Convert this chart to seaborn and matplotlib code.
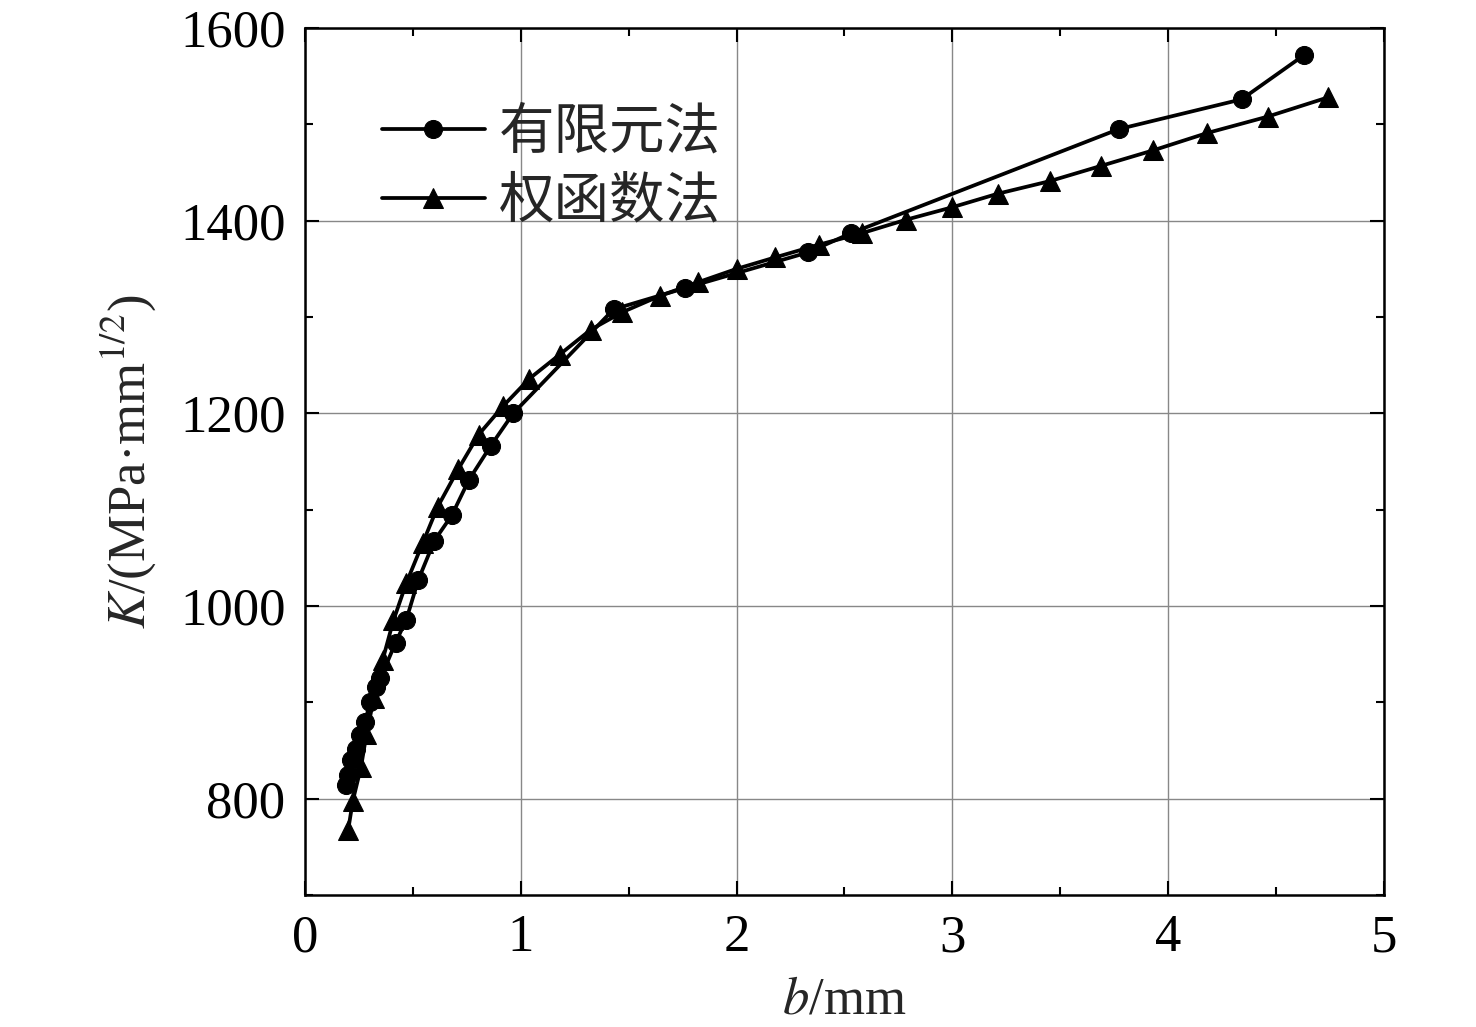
import numpy as np
import pandas as pd
import matplotlib
matplotlib.use("Agg")
import matplotlib.pyplot as plt
import seaborn as sns
from matplotlib.ticker import MultipleLocator

# 有限元法 (circles)
b_fem = [0.19, 0.20, 0.215, 0.235, 0.255, 0.28, 0.30, 0.33, 0.35, 0.42, 0.47,
         0.525, 0.60, 0.68, 0.76, 0.86, 0.965, 1.43, 1.76, 2.33, 2.53, 3.77,
         4.34, 4.63]
k_fem = [814, 825, 840, 852, 866, 880, 900, 916, 925, 962, 986,
         1027, 1068, 1094, 1131, 1166, 1200, 1308, 1330, 1367, 1387, 1495,
         1526, 1572]

# 权函数法 (triangles)
b_wf = [0.20, 0.222, 0.26, 0.285, 0.32, 0.36, 0.41, 0.47, 0.545, 0.615, 0.71,
        0.805, 0.92, 1.04, 1.18, 1.325, 1.47, 1.645, 1.82, 2.0, 2.18, 2.38,
        2.58, 2.785, 3.0, 3.21, 3.45, 3.69, 3.93, 4.18, 4.46, 4.74]
k_wf = [767, 798, 833, 867, 905, 944, 985, 1024, 1065, 1103, 1142,
        1178, 1208, 1236, 1261, 1287, 1305, 1322, 1336, 1350, 1362, 1375,
        1387, 1401, 1414, 1428, 1441, 1457, 1473, 1491, 1508, 1528]

labels = ["有限元法", "权函数法"]

sns.set_theme(style="ticks")
plt.rcParams["font.family"] = ["Liberation Serif", "Noto Sans CJK SC", "DejaVu Sans"]
plt.rcParams["mathtext.fontset"] = "stix"

fem = pd.DataFrame({"b": b_fem, "K": k_fem})
wf = pd.DataFrame({"b": b_wf, "K": k_wf})

fig = plt.figure(figsize=(14.76, 10.27), dpi=100)
ax = fig.add_axes([0.2066, 0.1285, 0.7311, 0.8442])

sns.lineplot(data=fem, x="b", y="K", ax=ax, sort=False, color="black",
             linewidth=2.7, marker="o", markersize=13, markeredgecolor="black",
             label=labels[0])
sns.lineplot(data=wf, x="b", y="K", ax=ax, sort=False, color="black",
             linewidth=2.7, marker="^", markersize=14.5, markeredgecolor="black",
             label=labels[1])

ax.set_xlim(0, 5)
ax.set_ylim(700, 1600)
ax.xaxis.set_major_locator(MultipleLocator(1))
ax.xaxis.set_minor_locator(MultipleLocator(0.5))
ax.yaxis.set_major_locator(MultipleLocator(200))
ax.yaxis.set_minor_locator(MultipleLocator(100))
ax.tick_params(which="both", direction="in", top=True, right=True,
               width=1.5, colors="black")
ax.tick_params(which="major", length=10, labelsize=38, pad=14)
ax.tick_params(which="minor", length=6)
ax.grid(True, which="major", color="#888888", linewidth=1.0)
for s in ax.spines.values():
    s.set_linewidth(1.8)
    s.set_color("black")

ax.set_xlabel("$b$/mm", fontsize=38, labelpad=10)
ax.set_ylabel("$K$/(MPa·mm$^{1/2}$)", fontsize=38, labelpad=16)

ax.legend(loc="upper left", bbox_to_anchor=(0.025, 0.97), frameon=False,
          prop={"family": ["Noto Sans CJK SC"], "size": 40},
          handlelength=1.85, handletextpad=0.25, labelspacing=0.2)

fig.savefig("out.png", dpi=100)
